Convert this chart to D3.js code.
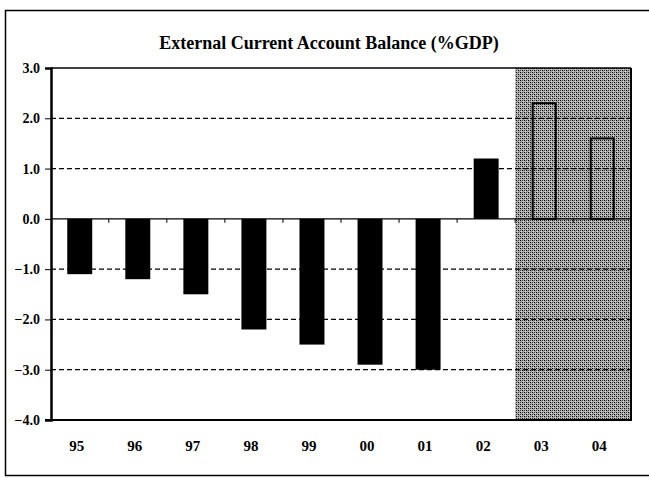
<!DOCTYPE html>
<html>
<head>
<meta charset="utf-8">
<script src="https://cdn.jsdelivr.net/npm/d3@7"></script>
<style>
html,body{margin:0;padding:0;background:#fff;}
svg{display:block;}
</style>
</head>
<body>
<svg id="chart" width="649" height="478"></svg>
<script>
const years = ["95","96","97","98","99","00","01","02","03","04"];
const balance = [-1.1,-1.2,-1.5,-2.2,-2.5,-2.9,-3.0,1.2,2.3,1.6];
const projectedYears = ["03","04"];
const yTicks = [3,2,1,0,-1,-2,-3,-4];
const gridValues = [2,1,-1,-2,-3];
const title = "External Current Account Balance (%GDP)";

(function(){
const svg = d3.select("#chart");
const serif = "'Liberation Serif','Times New Roman',serif";

const pLeft = 51, pRight = 631, pTop = 68, pBottom = 420;
const x = d3.scaleBand().domain(years).range([pLeft, pRight]).paddingInner(0.57).paddingOuter(0.28);
const y = d3.scaleLinear().domain([-4, 3]).range([pBottom, pTop]);

// halftone pattern
const defs = svg.append("defs");
const pat = defs.append("pattern").attr("id","dots").attr("patternUnits","userSpaceOnUse")
  .attr("width",4).attr("height",4);
pat.append("rect").attr("width",4).attr("height",4).attr("fill","#d4d4d4");
[[0,0],[2,2],[2,0],[0,2]].forEach(([px,py],i)=>{
  pat.append("rect").attr("x",px).attr("y",py).attr("width",1.2).attr("height",1.2).attr("fill", i<2 ? "#000" : "#444");
});
pat.append("rect").attr("x",1).attr("y",1).attr("width",1).attr("height",1).attr("fill","#999");
pat.append("rect").attr("x",3).attr("y",3).attr("width",1).attr("height",1).attr("fill","#999");

// outer frame
svg.append("rect").attr("x",5.5).attr("y",10.5).attr("width",700).attr("height",465)
  .attr("fill","none").attr("stroke","#000").attr("stroke-width",1.5);

// title
svg.append("text").attr("x",329).attr("y",49).attr("text-anchor","middle")
  .attr("font-family",serif).attr("font-weight","bold").attr("font-size",18)
  .text(title);

// shaded projection region
const shadeX = x(projectedYears[0]) - x.step()*x.paddingInner()/2;
svg.append("rect").attr("x",shadeX).attr("y",pTop).attr("width",pRight-shadeX).attr("height",pBottom-pTop)
  .attr("fill","url(#dots)");

// gridlines
svg.append("g").selectAll("line").data(gridValues).join("line")
  .attr("x1",pLeft).attr("x2",pRight).attr("y1",d=>y(d)).attr("y2",d=>y(d))
  .attr("stroke","#000").attr("stroke-width",1.2).attr("stroke-dasharray","5,3");

// bars
const data = years.map((yr,i)=>({yr, v: balance[i], proj: projectedYears.includes(yr)}));
svg.append("g").selectAll("rect").data(data.filter(d=>!d.proj)).join("rect")
  .attr("x",d=>x(d.yr)).attr("width",x.bandwidth())
  .attr("y",d=>y(Math.max(0,d.v))).attr("height",d=>Math.abs(y(d.v)-y(0)))
  .attr("fill","#000");
svg.append("g").selectAll("rect").data(data.filter(d=>d.proj)).join("rect")
  .attr("x",d=>x(d.yr)+1).attr("width",x.bandwidth()-2)
  .attr("y",d=>y(Math.max(0,d.v))).attr("height",d=>Math.abs(y(d.v)-y(0)))
  .attr("fill","none").attr("stroke","#000").attr("stroke-width",2);

// zero line with category-boundary ticks
svg.append("line").attr("x1",pLeft).attr("x2",pRight).attr("y1",y(0)).attr("y2",y(0))
  .attr("stroke","#000").attr("stroke-width",1.2);
svg.append("g").selectAll("line").data(years.slice(1)).join("line")
  .attr("x1",d=>x(d)-x.step()*x.paddingInner()/2).attr("x2",d=>x(d)-x.step()*x.paddingInner()/2)
  .attr("y1",y(0)).attr("y2",y(0)+4).attr("stroke","#000").attr("stroke-width",1);

// frame: top, right, bottom
svg.append("line").attr("x1",pLeft).attr("x2",pRight).attr("y1",pTop).attr("y2",pTop)
  .attr("stroke","#000").attr("stroke-width",1.5);
svg.append("line").attr("x1",pRight).attr("x2",pRight).attr("y1",pTop).attr("y2",pBottom)
  .attr("stroke","#000").attr("stroke-width",2);
svg.append("line").attr("x1",pLeft-6).attr("x2",pRight+1).attr("y1",pBottom).attr("y2",pBottom)
  .attr("stroke","#000").attr("stroke-width",2);

// y axis
const yAxis = d3.axisLeft(y).tickValues(yTicks).tickFormat(d3.format(".1f")).tickSize(6).tickPadding(5);
const gy = svg.append("g").attr("transform",`translate(${pLeft},0)`).call(yAxis);
gy.select(".domain").attr("stroke-width",2.5);
gy.selectAll("text").attr("font-family",serif).attr("font-size",14).attr("font-weight","bold").attr("fill","#000");

// x labels
svg.append("g").selectAll("text").data(years).join("text")
  .attr("x",d=>x(d)+x.bandwidth()/2-3).attr("y",451).attr("text-anchor","middle")
  .attr("font-family",serif).attr("font-size",15).attr("font-weight","bold")
  .text(d=>d);
})();
</script>
</body>
</html>
